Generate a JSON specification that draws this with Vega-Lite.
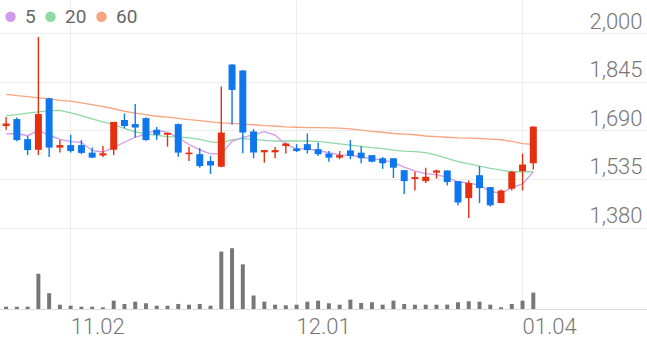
{
  "$schema": "https://vega.github.io/schema/vega-lite/v6.json",
  "width": 647,
  "height": 337,
  "autosize": {"type": "fit", "contains": "padding"},
  "padding": 0,
  "background": "white",
  "config": {"view": {"stroke": null}, "font": "Roboto"},
  "data": {"values": [
    {"d":"10.25","o":1704,"h":1733,"l":1692,"c":1712,"v":46,"ma5":1679,"ma20":1737,"ma60":1805},
    {"d":"10.26","o":1726,"h":1731,"l":1655,"c":1659,"v":46,"ma5":1680,"ma20":1740,"ma60":1801},
    {"d":"10.27","o":1662,"h":1672,"l":1611,"c":1627,"v":46,"ma5":1673,"ma20":1745,"ma60":1798},
    {"d":"10.30","o":1628,"h":1988,"l":1611,"c":1742,"v":700,"ma5":1690,"ma20":1749,"ma60":1794},
    {"d":"10.31","o":1792,"h":1794,"l":1605,"c":1635,"v":314,"ma5":1675,"ma20":1753,"ma60":1791},
    {"d":"11.01","o":1635,"h":1659,"l":1619,"c":1643,"v":86,"ma5":1661,"ma20":1754,"ma60":1786},
    {"d":"11.02","o":1643,"h":1676,"l":1619,"c":1624,"v":66,"ma5":1654,"ma20":1746,"ma60":1783},
    {"d":"11.03","o":1643,"h":1659,"l":1614,"c":1618,"v":46,"ma5":1652,"ma20":1737,"ma60":1778},
    {"d":"11.06","o":1619,"h":1635,"l":1603,"c":1603,"v":46,"ma5":1625,"ma20":1727,"ma60":1772},
    {"d":"11.07","o":1610,"h":1640,"l":1605,"c":1617,"v":34,"ma5":1621,"ma20":1717,"ma60":1766},
    {"d":"11.08","o":1628,"h":1717,"l":1611,"c":1717,"v":166,"ma5":1636,"ma20":1708,"ma60":1759},
    {"d":"11.09","o":1723,"h":1744,"l":1697,"c":1704,"v":100,"ma5":1652,"ma20":1696,"ma60":1751},
    {"d":"11.10","o":1710,"h":1774,"l":1667,"c":1699,"v":146,"ma5":1668,"ma20":1685,"ma60":1745},
    {"d":"11.13","o":1729,"h":1731,"l":1657,"c":1659,"v":114,"ma5":1679,"ma20":1679,"ma60":1740},
    {"d":"11.14","o":1692,"h":1701,"l":1660,"c":1676,"v":66,"ma5":1691,"ma20":1674,"ma60":1735},
    {"d":"11.15","o":1676,"h":1682,"l":1638,"c":1682,"v":66,"ma5":1684,"ma20":1670,"ma60":1732},
    {"d":"11.16","o":1710,"h":1712,"l":1606,"c":1619,"v":100,"ma5":1667,"ma20":1669,"ma60":1728},
    {"d":"11.17","o":1614,"h":1638,"l":1592,"c":1619,"v":86,"ma5":1645,"ma20":1666,"ma60":1724},
    {"d":"11.20","o":1614,"h":1634,"l":1571,"c":1576,"v":100,"ma5":1628,"ma20":1661,"ma60":1721},
    {"d":"11.21","o":1592,"h":1608,"l":1551,"c":1578,"v":66,"ma5":1615,"ma20":1653,"ma60":1717},
    {"d":"11.22","o":1574,"h":1830,"l":1572,"c":1683,"v":1140,"ma5":1615,"ma20":1651,"ma60":1714},
    {"d":"11.23","o":1900,"h":1902,"l":1708,"c":1819,"v":1208,"ma5":1655,"ma20":1660,"ma60":1712},
    {"d":"11.24","o":1881,"h":1883,"l":1617,"c":1683,"v":888,"ma5":1668,"ma20":1664,"ma60":1710},
    {"d":"11.27","o":1686,"h":1694,"l":1601,"c":1619,"v":268,"ma5":1676,"ma20":1661,"ma60":1708},
    {"d":"11.28","o":1620,"h":1627,"l":1587,"c":1627,"v":146,"ma5":1686,"ma20":1658,"ma60":1705},
    {"d":"11.29","o":1620,"h":1637,"l":1601,"c":1627,"v":86,"ma5":1675,"ma20":1656,"ma60":1704},
    {"d":"11.30","o":1640,"h":1651,"l":1616,"c":1648,"v":74,"ma5":1645,"ma20":1656,"ma60":1701},
    {"d":"12.01","o":1632,"h":1646,"l":1621,"c":1624,"v":86,"ma5":1631,"ma20":1656,"ma60":1700},
    {"d":"12.04","o":1646,"h":1680,"l":1616,"c":1627,"v":146,"ma5":1631,"ma20":1656,"ma60":1699},
    {"d":"12.05","o":1630,"h":1651,"l":1608,"c":1614,"v":166,"ma5":1625,"ma20":1655,"ma60":1699},
    {"d":"12.06","o":1616,"h":1624,"l":1590,"c":1603,"v":114,"ma5":1619,"ma20":1651,"ma60":1698},
    {"d":"12.07","o":1603,"h":1624,"l":1598,"c":1611,"v":86,"ma5":1612,"ma20":1647,"ma60":1697},
    {"d":"12.08","o":1626,"h":1659,"l":1598,"c":1608,"v":186,"ma5":1611,"ma20":1643,"ma60":1695},
    {"d":"12.11","o":1619,"h":1639,"l":1585,"c":1601,"v":120,"ma5":1605,"ma20":1639,"ma60":1691},
    {"d":"12.12","o":1611,"h":1611,"l":1588,"c":1590,"v":134,"ma5":1600,"ma20":1635,"ma60":1687},
    {"d":"12.13","o":1601,"h":1605,"l":1567,"c":1585,"v":86,"ma5":1595,"ma20":1632,"ma60":1684},
    {"d":"12.14","o":1601,"h":1601,"l":1538,"c":1571,"v":166,"ma5":1588,"ma20":1627,"ma60":1680},
    {"d":"12.15","o":1563,"h":1563,"l":1487,"c":1528,"v":100,"ma5":1573,"ma20":1624,"ma60":1678},
    {"d":"12.18","o":1535,"h":1558,"l":1498,"c":1541,"v":86,"ma5":1560,"ma20":1622,"ma60":1676},
    {"d":"12.19","o":1528,"h":1571,"l":1522,"c":1542,"v":86,"ma5":1552,"ma20":1619,"ma60":1672},
    {"d":"12.20","o":1555,"h":1565,"l":1536,"c":1562,"v":86,"ma5":1549,"ma20":1611,"ma60":1670},
    {"d":"12.21","o":1562,"h":1562,"l":1514,"c":1525,"v":86,"ma5":1540,"ma20":1601,"ma60":1668},
    {"d":"12.22","o":1528,"h":1528,"l":1451,"c":1460,"v":134,"ma5":1526,"ma20":1590,"ma60":1666},
    {"d":"12.26","o":1474,"h":1530,"l":1410,"c":1522,"v":154,"ma5":1522,"ma20":1583,"ma60":1665},
    {"d":"12.27","o":1547,"h":1576,"l":1458,"c":1506,"v":146,"ma5":1515,"ma20":1576,"ma60":1664},
    {"d":"12.28","o":1509,"h":1509,"l":1447,"c":1451,"v":86,"ma5":1495,"ma20":1569,"ma60":1662},
    {"d":"01.02","o":1458,"h":1501,"l":1458,"c":1498,"v":34,"ma5":1489,"ma20":1563,"ma60":1660},
    {"d":"01.03","o":1504,"h":1561,"l":1498,"c":1558,"v":100,"ma5":1507,"ma20":1558,"ma60":1655},
    {"d":"01.04","o":1560,"h":1616,"l":1498,"c":1581,"v":166,"ma5":1519,"ma20":1558,"ma60":1648},
    {"d":"01.05","o":1585,"h":1703,"l":1565,"c":1702,"v":326,"ma5":1558,"ma20":1558,"ma60":1645}
  ]},
  "encoding": {
    "x": {
      "field": "d",
      "type": "ordinal",
      "scale": {
        "type": "band",
        "paddingInner": 0,
        "paddingOuter": 0.067,
        "domain": ["10.25","10.26","10.27","10.30","10.31","11.01","11.02","11.03","11.06","11.07","11.08","11.09","11.10","11.13","11.14","11.15","11.16","11.17","11.20","11.21","11.22","11.23","11.24","11.27","11.28","11.29","11.30","12.01","12.04","12.05","12.06","12.07","12.08","12.11","12.12","12.13","12.14","12.15","12.18","12.19","12.20","12.21","12.22","12.26","12.27","12.28","01.02","01.03","01.04","01.05","01.08","01.09","01.10","01.11","01.12","01.15","01.16","01.17","01.18","01.19"]
      },
      "axis": {
        "title": null,
        "values": ["11.02","12.01","01.04"],
        "labelAngle": 0,
        "labelAlign": "left",
        "labelPadding": 7,
        "labelFontSize": 22,
        "labelFont": "Roboto",
        "labelFontWeight": 300,
        "labelColor": "#777777",
        "ticks": false,
        "grid": true,
        "gridColor": "#ededed",
        "domainColor": "#dddddd",
        "bandPosition": 0.5
      }
    }
  },
  "layer": [
    {
      "layer": [
        {
          "transform": [{"fold": ["ma60", "ma20", "ma5"], "as": ["ma", "val"]}],
          "mark": {"type": "line", "strokeWidth": 1.3},
          "encoding": {
            "y": {
              "field": "val",
              "type": "quantitative",
              "scale": {"domain": [1120, 2106], "zero": false, "nice": false},
              "axis": {
                "title": null,
                "orient": "right",
                "values": [1380, 1535, 1690, 1845, 2000],
                "format": ",.0f",
                "domain": false,
                "ticks": false,
                "labelPadding": -5,
                "labelAlign": "right",
                "labelBaseline": "alphabetic",
                "labelOffset": -5,
                "labelFontSize": 22,
                "labelFont": "Roboto",
                "labelFontWeight": 300,
                "labelColor": "#777777",
                "labelOverlap": false,
                "labelBound": false,
                "gridColor": "#ededed"
              }
            },
            "color": {
              "field": "ma",
              "type": "nominal",
              "scale": {"domain": ["ma5", "ma20", "ma60"], "range": ["#d29aea", "#8fd9a3", "#f7a47f"]},
              "legend": {
                "title": null,
                "orient": "none",
                "legendX": 1,
                "legendY": 7,
                "direction": "horizontal",
                "symbolType": "circle",
                "symbolSize": 110,
                "symbolStrokeWidth": 0,
                "labelFontSize": 19,
                "labelFont": "Roboto",
                "labelFontWeight": 400,
                "labelColor": "#666666",
                "labelOffset": 5,
                "columnPadding": 5,
                "labelExpr": "replace(datum.label, 'ma', '')",
                "encode": {"symbols": {"update": {"fill": {"scale": "color", "field": "value"}, "fillOpacity": {"value": 1}, "opacity": {"value": 1}, "size": {"value": 110}}}}
              }
            }
          }
        },
        {
          "mark": {"type": "rule", "strokeWidth": 1.4},
          "encoding": {
            "y": {"field": "l", "type": "quantitative", "title": null},
            "y2": {"field": "h"},
            "color": {"condition": {"test": "datum.c >= datum.o", "value": "#e5300f"}, "value": "#0f77ec"}
          }
        },
        {
          "mark": {"type": "bar", "width": {"band": 0.65}},
          "encoding": {
            "y": {"field": "o", "type": "quantitative", "title": null},
            "y2": {"field": "c"},
            "color": {"condition": {"test": "datum.c >= datum.o", "value": "#e5300f"}, "value": "#0f77ec"}
          }
        }
      ]
    },
    {
      "mark": {"type": "bar", "width": {"band": 0.37}, "color": "#777777"},
      "encoding": {
        "y": {"field": "v", "type": "quantitative", "scale": {"domain": [0, 6140]}, "axis": null}
      }
    }
  ],
  "resolve": {"scale": {"y": "independent"}}
}
